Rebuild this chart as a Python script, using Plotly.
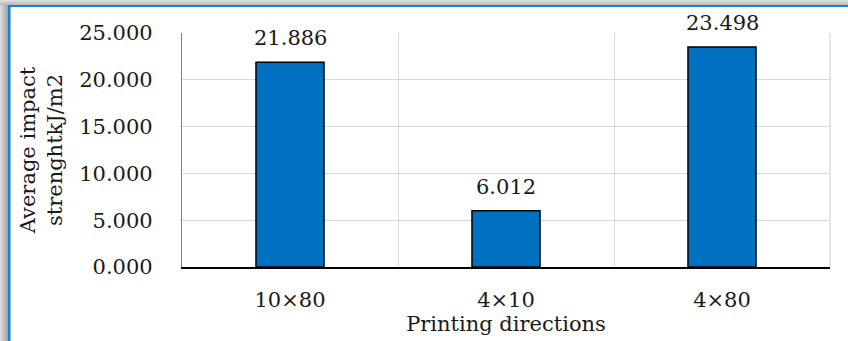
import plotly.graph_objects as go

# Impact test results by printing direction
directions = ["10×80", "4×10", "4×80"]
impact_strength = [21.886, 6.012, 23.498]
y_ticks = [0, 5, 10, 15, 20, 25]
y_tick_labels = ["0.000", "5.000", "10.000", "15.000", "20.000", "25.000"]

W, H = 848, 341
ML, MR, MT, MB = 182, 18, 33, 74
FONT = "DejaVu Serif"
FS = 21
TXT = "#1a1a1a"
BAR_BLUE = "#0070C0"


def px_x(p):
    return (p - ML) / (W - ML - MR)


def px_y(p):
    return (H - MB - p) / (H - MT - MB)


fig = go.Figure()
fig.add_trace(go.Bar(
    x=directions,
    y=impact_strength,
    marker=dict(color=BAR_BLUE, line=dict(color="black", width=1.5)),
    hoverinfo="skip",
))

# value labels above each bar
for d, v in zip(directions, impact_strength):
    fig.add_annotation(x=d, y=v, text=f"{v:.3f}", showarrow=False,
                       yanchor="middle", yshift=24,
                       font=dict(family=FONT, size=FS, color=TXT))

shapes = []
# soft grey shadow along the left and top edges
greys = ["#dcdcdc", "#d4d4d4", "#cccccc", "#c4c4c4", "#bcbcbc", "#b4b4b4", "#acacac", "#a4a4a4"]
for i, g in enumerate(greys):
    shapes.append(dict(type="rect", xref="paper", yref="paper",
                       x0=px_x(i), x1=px_x(i + 1), y0=px_y(H), y1=px_y(0),
                       line=dict(width=0), fillcolor=g, layer="below"))
for i, g in enumerate(greys[:5]):
    shapes.append(dict(type="rect", xref="paper", yref="paper",
                       x0=px_x(0), x1=px_x(W), y0=px_y(i + 1), y1=px_y(i),
                       line=dict(width=0), fillcolor=g, layer="below"))
# blue frame lines
shapes.append(dict(type="rect", xref="paper", yref="paper",
                   x0=px_x(8), x1=px_x(10.5), y0=px_y(H), y1=px_y(5),
                   line=dict(width=0), fillcolor="#1a7fd0", layer="below"))
shapes.append(dict(type="rect", xref="paper", yref="paper",
                   x0=px_x(8), x1=px_x(W), y0=px_y(7), y1=px_y(5),
                   line=dict(width=0), fillcolor="#1a7fd0", layer="below"))
# right-hand grid line closing the plot area
shapes.append(dict(type="line", xref="paper", yref="paper",
                   x0=1, x1=1, y0=0, y1=1, line=dict(color="#d9d9d9", width=1.3)))

fig.update_layout(
    width=W, height=H,
    margin=dict(l=ML, r=MR, t=MT, b=MB),
    paper_bgcolor="white", plot_bgcolor="white",
    showlegend=False,
    bargap=0.685,
    font=dict(family=FONT, size=FS, color=TXT),
    shapes=shapes,
    xaxis=dict(
        type="category",
        tickson="boundaries",
        showgrid=True, gridcolor="#d9d9d9", gridwidth=1.3,
        showline=True, linecolor="black", linewidth=2,
        ticks="", ticklabelstandoff=13,
        tickfont=dict(family=FONT, size=FS, color=TXT),
        title=dict(text="Printing directions", standoff=0,
                   font=dict(family=FONT, size=FS, color=TXT)),
        zeroline=False,
    ),
    yaxis=dict(
        range=[0, 25],
        tickvals=y_ticks, ticktext=y_tick_labels,
        showgrid=True, gridcolor="#d9d9d9", gridwidth=1.3,
        showline=True, linecolor="#7f7f7f", linewidth=1.3,
        ticks="", ticklabelstandoff=24,
        tickfont=dict(family=FONT, size=FS, color=TXT),
        title=dict(text="Average impact<br>strenghtkJ/m2", standoff=10,
                   font=dict(family=FONT, size=FS, color=TXT)),
        zeroline=False,
    ),
)

fig.write_html("out.html")
